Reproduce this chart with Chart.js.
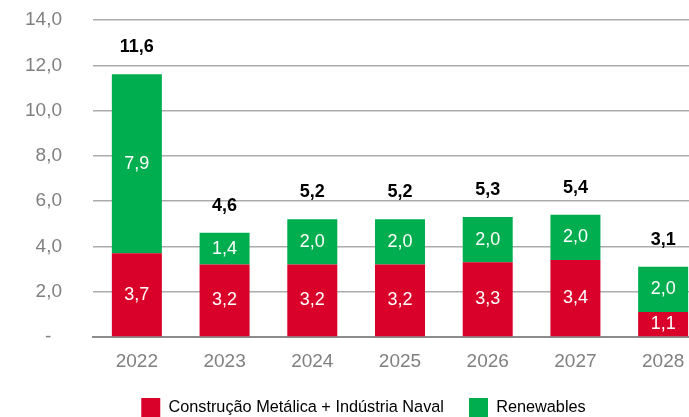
<!DOCTYPE html>
<html>
<head>
<meta charset="utf-8">
<script src="https://cdn.jsdelivr.net/npm/chart.js@4/dist/chart.umd.min.js"></script>
<style>
    html, body { margin: 0; padding: 0; background: #fff; overflow: hidden; }
    #wrap { width: 689px; height: 417px; overflow: hidden; position: relative; }
    #wrap canvas { position: absolute; left: 0; top: 0; }
</style>
</head>
<body>
<div id="wrap"><canvas id="chart" width="710" height="427" style="width:710px;height:427px"></canvas></div>
<script>
const years = ['2022', '2023', '2024', '2025', '2026', '2027', '2028'];
const metalica = [3.7, 3.2, 3.2, 3.2, 3.3, 3.4, 1.1];
const renewables = [7.9, 1.4, 2.0, 2.0, 2.0, 2.0, 2.0];
const totals = [11.6, 4.6, 5.2, 5.2, 5.3, 5.4, 3.1];
const yTicks = [0, 2, 4, 6, 8, 10, 12, 14];

const RED = '#D9002A';
const GREEN = '#00AE4F';
const FONT = '"Liberation Sans", Arial, sans-serif';
const fmt = v => v.toFixed(1).replace('.', ',');

// value labels inside the segments and totals above the stacks
const barLabels = {
    id: 'barLabels',
    afterDatasetsDraw(chart) {
        const ctx = chart.ctx;
        ctx.save();
        ctx.textAlign = 'center';
        ctx.textBaseline = 'middle';
        ctx.font = '18px ' + FONT;
        ctx.fillStyle = '#fff';
        chart.data.datasets.forEach((ds, i) => {
            chart.getDatasetMeta(i).data.forEach((bar, j) => {
                ctx.fillText(fmt(ds.data[j]), bar.x, (bar.y + bar.base) / 2);
            });
        });
        ctx.font = 'bold 18px ' + FONT;
        ctx.fillStyle = '#000';
        chart.getDatasetMeta(1).data.forEach((bar, j) => {
            ctx.fillText(fmt(totals[j]), bar.x, bar.y - 27);
        });
        ctx.restore();
    }
};

new Chart(document.getElementById('chart'), {
    type: 'bar',
    data: {
        labels: years,
        datasets: [
            { label: 'Construção Metálica + Indústria Naval', data: metalica, backgroundColor: RED },
            { label: 'Renewables', data: renewables, backgroundColor: GREEN }
        ]
    },
    options: {
        responsive: false,
        animation: false,
        layout: { padding: { top: 20, right: 3, left: 20, bottom: 0 } },
        datasets: { bar: { categoryPercentage: 1, barPercentage: 0.57 } },
        scales: {
            x: {
                stacked: true,
                grid: { display: false, drawTicks: false },
                border: { color: '#8C8C8C', width: 2 },
                ticks: { color: '#808080', padding: 13, font: { size: 19, family: FONT } },
                afterFit: s => { s.height = 36; }
            },
            y: {
                stacked: true,
                min: 0, max: 14,
                afterBuildTicks: s => { s.ticks = yTicks.map(v => ({ value: v })); },
                grid: { color: '#ABABAB', lineWidth: 1.5, drawTicks: true, tickLength: 29, tickColor: 'transparent' },
                border: { display: false },
                ticks: {
                    color: '#808080', padding: 2,
                    font: { size: 19, family: FONT },
                    callback: v => v === 0 ? '-  ' : fmt(v)
                },
                afterFit: s => { s.width = 73; }
            }
        },
        plugins: {
            legend: {
                position: 'bottom',
                labels: {
                    boxWidth: 19, boxHeight: 19, padding: 25, color: '#000',
                    font: { size: 16.3, family: FONT }
                }
            },
            tooltip: { enabled: false }
        }
    },
    plugins: [barLabels]
});
</script>
</body>
</html>
